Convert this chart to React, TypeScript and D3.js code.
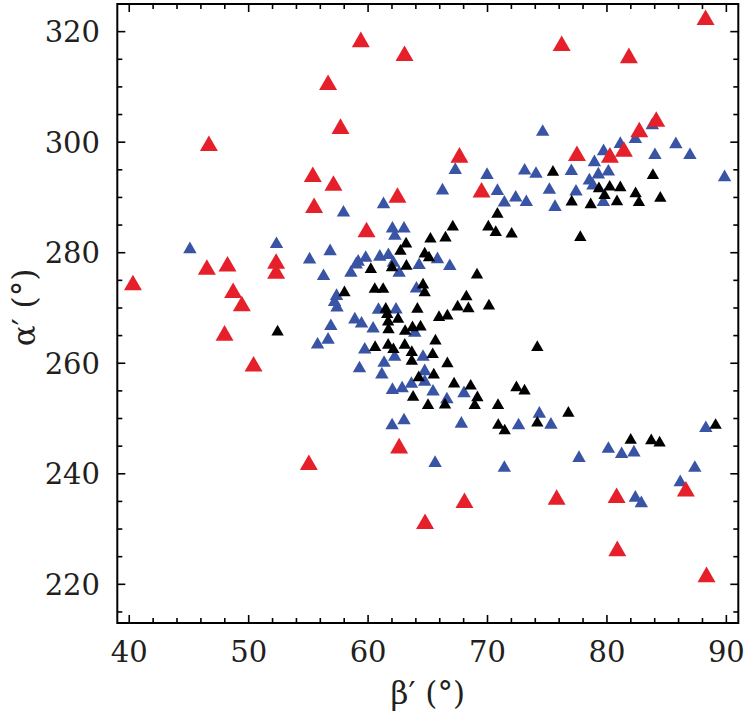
import React from 'react';
import * as d3 from 'd3';

const xTicks = [40, 50, 60, 70, 80, 90];
const yTicks = [220, 240, 260, 280, 300, 320];

const red: [number, number][] = [
  [46.67, 299.8], [59.39, 318.6], [63.05, 316.1], [56.65, 310.85], [57.69, 302.9],
  [67.65, 297.7], [55.37, 294.2], [57.1, 292.6], [55.48, 288.6], [62.46, 290.45],
  [69.5, 291.4], [88.26, 322.6], [76.21, 317.9], [81.84, 315.7], [84.13, 304.2],
  [82.71, 302.3], [77.49, 298.0], [80.25, 297.7], [81.42, 298.75], [46.5, 277.4],
  [48.23, 278.0], [52.3, 278.5], [52.3, 276.7], [40.31, 274.6], [48.7, 273.2],
  [49.43, 270.8], [47.98, 265.5], [50.41, 259.9], [55.04, 242.1], [62.6, 245.1],
  [64.77, 231.4], [68.07, 235.2], [86.61, 237.3], [75.79, 235.8], [80.81, 236.1],
  [80.87, 226.5], [88.34, 221.8], [59.87, 284.2],
];

const blue: [number, number][] = [
  [67.3, 295.3], [57.94, 287.6], [61.29, 289.1], [66.23, 291.6], [69.96, 294.4],
  [70.83, 291.5], [71.41, 289.4], [72.36, 290.3], [83.8, 303.4], [82.38, 300.9],
  [74.62, 302.2], [79.72, 298.7], [81.12, 300.0], [85.77, 299.96], [86.95, 298.0],
  [84.02, 298.0], [89.85, 294.0], [73.11, 295.2], [74.06, 294.6], [77.02, 295.1],
  [78.95, 296.7], [79.28, 294.5], [80.12, 295.0], [78.53, 293.4], [78.83, 292.5],
  [75.18, 291.7], [77.41, 291.4], [73.25, 289.5], [75.65, 288.6], [79.7, 289.5],
  [45.08, 280.96], [52.33, 281.9], [55.1, 279.1],
  [62.01, 249.1], [63.01, 250.0], [67.81, 249.4], [65.61, 242.3], [71.41, 241.4],
  [72.6, 249.1], [74.34, 251.2], [75.31, 249.2], [77.66, 243.2], [80.12, 244.85],
  [81.23, 243.9], [82.26, 244.2], [88.28, 248.6], [87.36, 241.4], [86.14, 238.8],
  [82.38, 236.0], [82.88, 235.0],
  [62.04, 284.7], [63.01, 284.7], [62.24, 283.4], [65.81, 279.15], [66.84, 277.9],
  [56.82, 280.6], [56.27, 276.1], [59.0, 278.2], [59.17, 278.7], [59.8, 279.4],
  [58.56, 276.7], [60.98, 279.6], [61.7, 279.9], [62.12, 278.5], [62.6, 276.7],
  [64.27, 278.1], [64.05, 273.85], [57.36, 272.5], [57.19, 271.4], [57.4, 270.4],
  [60.87, 270.0], [62.34, 270.05], [58.89, 268.25], [59.45, 267.5], [60.42, 266.6],
  [63.91, 265.85], [56.88, 267.05], [56.65, 264.6], [55.77, 263.7], [59.72, 262.8],
  [62.23, 261.5], [64.6, 261.5], [61.34, 260.4], [59.28, 259.4], [61.15, 258.3],
  [64.74, 258.9], [64.74, 257.0], [62.04, 255.5], [62.85, 255.8], [63.63, 256.6],
  [65.44, 255.2], [68.03, 254.9], [66.6, 253.8],
];

const black: [number, number][] = [
  [70.83, 287.3], [75.48, 294.9], [79.33, 291.9], [80.23, 292.2], [81.12, 292.1],
  [79.8, 290.7], [77.05, 289.5], [78.64, 289.0], [80.84, 289.55], [82.4, 291.0],
  [82.68, 289.4], [83.85, 294.3], [84.47, 290.2],
  [52.42, 266.0],
  [65.02, 252.7], [66.44, 252.8], [68.93, 252.7], [70.88, 252.7], [70.9, 249.1],
  [71.44, 248.1], [74.17, 249.5], [76.77, 251.3], [81.99, 246.4], [83.71, 246.3],
  [84.41, 245.9], [89.1, 249.1],
  [77.77, 283.1], [74.17, 263.2], [73.1, 255.3], [72.42, 255.9],
  [67.09, 285.0], [66.48, 283.0], [70.07, 285.0], [70.69, 284.0], [72.02, 283.7],
  [65.22, 282.8], [63.18, 281.9], [62.71, 280.6], [64.74, 280.1], [65.1, 279.4],
  [60.23, 277.3], [62.0, 277.6], [63.21, 277.9], [69.12, 276.3], [60.56, 273.7],
  [61.26, 273.7], [64.6, 274.5], [64.74, 273.1], [58.02, 273.1], [68.23, 272.35],
  [67.5, 270.5], [68.4, 270.2], [70.12, 270.7], [64.13, 270.1], [61.48, 270.1],
  [61.6, 269.15], [62.51, 268.3], [65.94, 268.6], [66.64, 268.9], [61.68, 267.8],
  [61.71, 266.4], [63.1, 266.1], [63.72, 266.75], [64.39, 266.9], [65.64, 264.35],
  [60.59, 263.2], [61.68, 263.6], [62.12, 262.8], [63.07, 263.6], [63.66, 262.3],
  [65.41, 261.9], [63.66, 260.7], [66.64, 260.25], [65.5, 258.2], [64.24, 257.7],
  [67.2, 256.6], [68.59, 256.2], [63.77, 254.2], [69.15, 254.1],
];

const W = 745;
const H = 717;
const FONT = '"DejaVu Serif", "Noto Serif", "Liberation Serif", serif';

function triangle(size: number) {
  const path = d3.symbol(d3.symbolTriangle, size)() as string;
  const h = 3 * Math.sqrt(size / (3 * Math.sqrt(3)));
  return { path, off: h / 6 };
}

export default function App() {
  const x = d3.scaleLinear().domain([39, 91]).range([117.3, 738.3]);
  const y = d3.scaleLinear().domain([213, 325]).range([623, 4]);
  const [x0, x1] = x.range();
  const [y0, y1] = y.range();
  const xMinor = d3.range(40, 91, 2);
  const yMinor = d3.range(215, 326, 5);

  const series = [
    { data: blue, color: '#3a54a5', ...triangle(78) },
    { data: black, color: '#000000', ...triangle(66) },
    { data: red, color: '#e5202a', ...triangle(140) },
  ];

  const textStyle = { fontFamily: FONT };

  return (
    <svg width={W} height={H} style={{ position: 'absolute', left: 0, top: 0, background: '#fff' }}>
      <rect x={0} y={0} width={W} height={H} fill="#fff" />
      <g stroke="#000" strokeWidth={1.6}>
        {xMinor.map((v) => {
          const len = v % 10 === 0 ? 8 : 5;
          return (
            <g key={'xt' + v}>
              <line x1={x(v)} x2={x(v)} y1={y0} y2={y0 - len} />
              <line x1={x(v)} x2={x(v)} y1={y1} y2={y1 + len} />
            </g>
          );
        })}
        {yMinor.map((v) => {
          const len = v % 20 === 0 ? 8 : 5;
          return (
            <g key={'yt' + v}>
              <line x1={x0} x2={x0 + len} y1={y(v)} y2={y(v)} />
              <line x1={x1} x2={x1 - len} y1={y(v)} y2={y(v)} />
            </g>
          );
        })}
      </g>
      {series.map((s, si) => (
        <g key={si} fill={s.color}>
          {s.data.map((d, i) => (
            <path key={i} d={s.path} transform={`translate(${x(d[0])},${y(d[1]) + s.off})`} />
          ))}
        </g>
      ))}
      <rect x={x0} y={y1} width={x1 - x0} height={y0 - y1} fill="none" stroke="#000" strokeWidth={2} />
      <g style={textStyle} fontSize={29} fill="#231f20">
        {xTicks.map((v) => (
          <text key={'xl' + v} x={x(v)} y={662} textAnchor="middle">{v}</text>
        ))}
        {yTicks.map((v) => (
          <text key={'yl' + v} x={100} y={y(v) + 10.5} textAnchor="end">{v}</text>
        ))}
        <text x={(x0 + x1) / 2} y={704} textAnchor="middle" fontSize={31}>β′ (°)</text>
        <text transform={`translate(35,${(y0 + y1) / 2 - 6}) rotate(-90)`} textAnchor="middle" fontSize={31}>α′ (°)</text>
      </g>
    </svg>
  );
}
